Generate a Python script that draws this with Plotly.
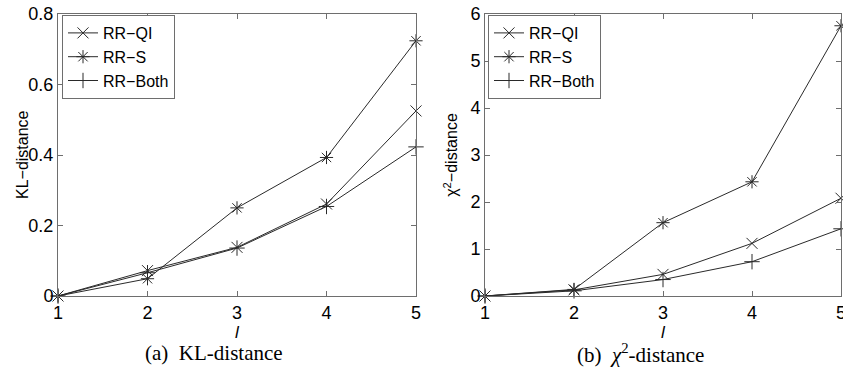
import plotly.graph_objects as go

x_vals = [1, 2, 3, 4, 5]
series_names = ["RR\u2212QI", "RR\u2212S", "RR\u2212Both"]

kl_qi = [0.0, 0.072, 0.138, 0.261, 0.525]
kl_s = [0.0, 0.049, 0.250, 0.393, 0.724]
kl_both = [0.0, 0.066, 0.136, 0.254, 0.423]

chi_qi = [0.0, 0.13, 0.46, 1.12, 2.08]
chi_s = [0.0, 0.14, 1.56, 2.43, 5.75]
chi_both = [0.0, 0.11, 0.35, 0.73, 1.43]

kl_ticks = [0, 0.2, 0.4, 0.6, 0.8]
chi_ticks = [0, 1, 2, 3, 4, 5, 6]

symbols = ["x-thin-open", "asterisk-open", "cross-thin-open"]
LINE = "#2a2a2a"
AXIS = "#6e6e6e"
SANS = "Liberation Sans, Arial"
SERIF = "Liberation Serif, Times New Roman"

fig = go.Figure()
for vals, name, sym in zip([kl_qi, kl_s, kl_both], series_names, symbols):
    fig.add_trace(go.Scatter(
        x=x_vals, y=vals, name=name, mode="lines+markers",
        line=dict(color=LINE, width=1),
        marker=dict(symbol=sym, size=11, line=dict(color=LINE, width=1)),
        xaxis="x", yaxis="y", legend="legend", cliponaxis=False))
for vals, name, sym in zip([chi_qi, chi_s, chi_both], series_names, symbols):
    fig.add_trace(go.Scatter(
        x=x_vals, y=vals, name=name, mode="lines+markers",
        line=dict(color=LINE, width=1),
        marker=dict(symbol=sym, size=11, line=dict(color=LINE, width=1)),
        xaxis="x2", yaxis="y2", legend="legend2", cliponaxis=False))

W, H = 843, 369


def px(p):
    return p / W


def py(p):
    return 1 - p / H


ydom = [py(296), py(14)]

axis_common = dict(
    showgrid=False, zeroline=False, showline=True, linecolor=AXIS, linewidth=1,
    mirror="ticks", ticks="inside", ticklen=5, tickcolor=AXIS, automargin=False,
    ticklabeloverflow="allow",
    tickfont=dict(family=SANS, size=18, color="#000"),
)

legend_common = dict(
    xanchor="left", yanchor="top",
    bordercolor=AXIS, borderwidth=1, bgcolor="white",
    font=dict(family=SANS, size=16, color="#000"),
    tracegroupgap=0, itemwidth=30,
)

fig.update_layout(
    template="none",
    width=W, height=H,
    margin=dict(l=0, r=0, t=0, b=0, pad=0),
    paper_bgcolor="white", plot_bgcolor="white",
    showlegend=True,
    xaxis=dict(domain=[px(58), px(416)], range=[1, 5], tickvals=x_vals,
               anchor="y",
               title=dict(text="<i>l</i>", standoff=0,
                          font=dict(family=SANS, size=17, color="#000")),
               **axis_common),
    yaxis=dict(domain=ydom, range=[0, 0.8], tickvals=kl_ticks, anchor="x",
               **axis_common),
    xaxis2=dict(domain=[px(485), px(841)], range=[1, 5], tickvals=x_vals,
                anchor="y2",
                title=dict(text="<i>l</i>", standoff=0,
                           font=dict(family=SANS, size=17, color="#000")),
                **axis_common),
    yaxis2=dict(domain=ydom, range=[0, 6], tickvals=chi_ticks, anchor="x2",
                title=dict(text="\u03c7<sup>2</sup>\u2212distance", standoff=8,
                           font=dict(family=SANS, size=16, color="#000")),
                **axis_common),
    legend=dict(x=px(62), y=py(15), **legend_common),
    legend2=dict(x=px(488), y=py(15), **legend_common),
    annotations=[
        dict(text="KL\u2212distance", x=px(23), y=py(155), xref="paper", yref="paper",
             textangle=-90, showarrow=False, xanchor="center", yanchor="middle",
             font=dict(family=SANS, size=16, color="#000")),
        dict(text="(a)  KL-distance", x=px(214), y=py(353), xref="paper", yref="paper",
             showarrow=False, xanchor="center", yanchor="middle",
             font=dict(family=SERIF, size=21, color="#000")),
        dict(text="(b)  <i>\u03c7</i><sup>2</sup>-distance", x=px(640), y=py(353),
             xref="paper", yref="paper",
             showarrow=False, xanchor="center", yanchor="middle",
             font=dict(family=SERIF, size=21, color="#000")),
    ],
)

fig.write_html(
    "out.html",
    config={"displayModeBar": False},
    post_script=(
        "document.body.style.margin='0';"
        "document.body.style.overflow='hidden';"
        "document.documentElement.style.overflow='hidden';"
    ),
)
